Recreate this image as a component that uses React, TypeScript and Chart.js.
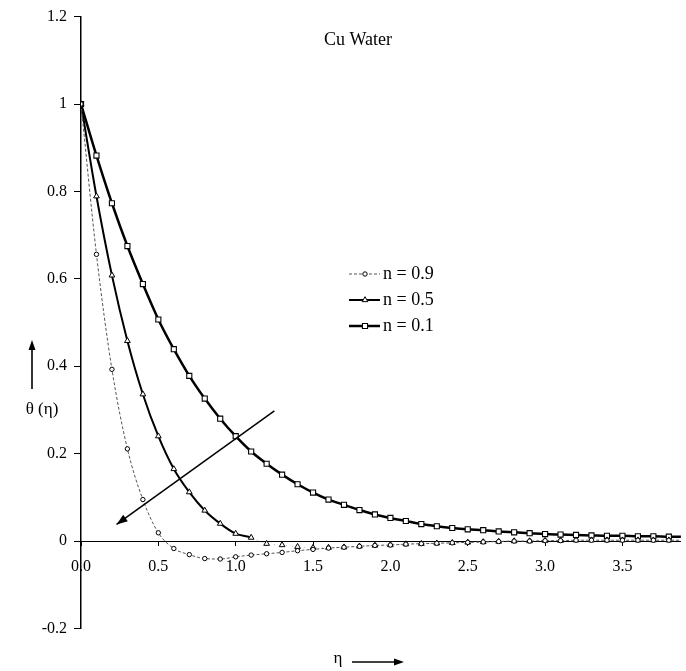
import React, { useEffect, useRef } from 'react';
import { Chart, registerables } from 'chart.js';

Chart.register(...registerables);

// ---- data ----
const etaValues = [
  0, 0.1, 0.2, 0.3, 0.4, 0.5, 0.6, 0.7, 0.8, 0.9,
  1.0, 1.1, 1.2, 1.3, 1.4, 1.5, 1.6, 1.7, 1.8, 1.9,
  2.0, 2.1, 2.2, 2.3, 2.4, 2.5, 2.6, 2.7, 2.8, 2.9,
  3.0, 3.1, 3.2, 3.3, 3.4, 3.5, 3.6, 3.7, 3.8, 3.9, 4.0,
];

const thetaN01 = [
  1.0, 0.882, 0.773, 0.675, 0.588, 0.507, 0.439, 0.378, 0.326, 0.28,
  0.24, 0.205, 0.177, 0.152, 0.13, 0.111, 0.095, 0.083, 0.071, 0.061,
  0.053, 0.046, 0.039, 0.034, 0.03, 0.027, 0.025, 0.022, 0.02, 0.018,
  0.016, 0.015, 0.014, 0.013, 0.012, 0.012, 0.011, 0.011, 0.01, 0.01, 0.01,
];

const thetaN05 = [
  1.0, 0.789, 0.608, 0.458, 0.336, 0.24, 0.165, 0.112, 0.07, 0.04,
  0.017, 0.008, -0.006, -0.009, -0.013, -0.015, -0.015, -0.014, -0.012, -0.01,
  -0.009, -0.007, -0.006, -0.005, -0.004, -0.003, -0.002, -0.001, 0.0, 0.0,
  0.001, 0.001, 0.002, 0.002, 0.002, 0.002, 0.002, 0.002, 0.002, 0.002, 0.002,
];

const thetaN09 = [
  1.0, 0.656, 0.393, 0.211, 0.095, 0.019, -0.017, -0.031, -0.04, -0.041,
  -0.036, -0.032, -0.029, -0.026, -0.022, -0.019, -0.016, -0.014, -0.012, -0.01,
  -0.009, -0.007, -0.006, -0.005, -0.004, -0.003, -0.002, -0.001, 0.0, 0.0,
  0.001, 0.001, 0.002, 0.002, 0.002, 0.002, 0.002, 0.002, 0.002, 0.002, 0.002,
];

const seriesLabels = ['n = 0.9', 'n = 0.5', 'n = 0.1'];
const xTickValues = [0, 0.5, 1.0, 1.5, 2.0, 2.5, 3.0, 3.5];
const yTickValues = [-0.2, 0, 0.2, 0.4, 0.6, 0.8, 1.0, 1.2];
const yTickLabels = ['-0.2', '0', '0.2', '0.4', '0.6', '0.8', '1', '1.2'];
const chartTitle = 'Cu Water';
const xAxisTitle = 'η';
const yAxisTitle = 'θ (η)';
const trendArrowFrom = [1.25, 0.298];
const trendArrowTo = [0.23, 0.038];

const SERIF = '"Liberation Serif", "Times New Roman", serif';
const LEGEND_ROWS = [274, 300, 326];

function toPoints(ys: number[]) {
  return etaValues.map((x, i) => ({ x, y: ys[i] }));
}

function drawArrowHead(ctx: CanvasRenderingContext2D, fx: number, fy: number, tx: number, ty: number, len: number, half: number) {
  const ang = Math.atan2(ty - fy, tx - fx);
  ctx.beginPath();
  ctx.moveTo(tx, ty);
  ctx.lineTo(tx - len * Math.cos(ang) + half * Math.sin(ang), ty - len * Math.sin(ang) - half * Math.cos(ang));
  ctx.lineTo(tx - len * Math.cos(ang) - half * Math.sin(ang), ty - len * Math.sin(ang) + half * Math.cos(ang));
  ctx.closePath();
  ctx.fill();
}

function drawMarker(ctx: CanvasRenderingContext2D, style: string, r: number, x: number, y: number) {
  ctx.beginPath();
  if (style === 'circle') {
    ctx.arc(x, y, r, 0, Math.PI * 2);
  } else if (style === 'rect') {
    const s = r * Math.SQRT1_2;
    ctx.rect(x - s, y - s, 2 * s, 2 * s);
  } else if (style === 'triangle') {
    ctx.moveTo(x, y - r);
    ctx.lineTo(x + r * 0.866, y + r * 0.5);
    ctx.lineTo(x - r * 0.866, y + r * 0.5);
    ctx.closePath();
  }
  ctx.fill();
  ctx.stroke();
}

const overlayPlugin = {
  id: 'overlay',
  afterDraw(chart: any) {
    const { ctx, scales } = chart;
    const xs = scales.x;
    const ys = scales.y;
    ctx.save();
    ctx.fillStyle = '#000';
    ctx.strokeStyle = '#000';

    // trend arrow
    const ax1 = xs.getPixelForValue(trendArrowFrom[0]);
    const ay1 = ys.getPixelForValue(trendArrowFrom[1]);
    const ax2 = xs.getPixelForValue(trendArrowTo[0]);
    const ay2 = ys.getPixelForValue(trendArrowTo[1]);
    ctx.lineWidth = 1.5;
    ctx.beginPath();
    ctx.moveTo(ax1, ay1);
    ctx.lineTo(ax2, ay2);
    ctx.stroke();
    drawArrowHead(ctx, ax1, ay1, ax2, ay2, 11, 4);

    // title
    ctx.font = `18px ${SERIF}`;
    ctx.textAlign = 'center';
    ctx.textBaseline = 'middle';
    ctx.fillText(chartTitle, 358, 40);

    // y-axis title with arrow
    ctx.font = `17px ${SERIF}`;
    ctx.fillText(yAxisTitle, 42, 410);
    ctx.lineWidth = 1.6;
    ctx.beginPath();
    ctx.moveTo(32, 389);
    ctx.lineTo(32, 348);
    ctx.stroke();
    drawArrowHead(ctx, 32, 389, 32, 340, 10, 3.5);

    // x-axis title with arrow
    ctx.fillText(xAxisTitle, 338, 659);
    ctx.beginPath();
    ctx.moveTo(352, 662);
    ctx.lineTo(395, 662);
    ctx.stroke();
    drawArrowHead(ctx, 352, 662, 404, 662, 10, 3.5);

    // legend
    chart.data.datasets.forEach((d: any, i: number) => {
      const yy = LEGEND_ROWS[i];
      ctx.save();
      ctx.strokeStyle = d.borderColor;
      ctx.lineWidth = d.borderWidth;
      ctx.setLineDash(d.borderDash || []);
      ctx.beginPath();
      ctx.moveTo(349, yy);
      ctx.lineTo(380, yy);
      ctx.stroke();
      ctx.restore();
      ctx.save();
      ctx.fillStyle = '#fff';
      ctx.strokeStyle = '#000';
      ctx.lineWidth = d.pointBorderWidth;
      ctx.setLineDash([]);
      drawMarker(ctx, d.pointStyle, d.pointRadius, 365, yy);
      ctx.restore();
      ctx.font = `18px ${SERIF}`;
      ctx.textAlign = 'left';
      ctx.textBaseline = 'middle';
      ctx.fillStyle = '#000';
      ctx.fillText(seriesLabels[i], 383, yy);
    });
    ctx.restore();
  },
};

export default function App() {
  const canvasRef = useRef<HTMLCanvasElement | null>(null);

  useEffect(() => {
    if (!canvasRef.current) return;
    const after11 = (c: any, v: any, dflt: any) => (c.p0.parsed.x >= 1.05 ? v : dflt);
    const chart = new Chart(canvasRef.current, {
      type: 'line',
      data: {
        datasets: [
          {
            label: seriesLabels[0],
            data: toPoints(thetaN09),
            borderColor: '#555',
            borderWidth: 1,
            borderDash: [3, 2],
            pointStyle: 'circle',
            pointRadius: 2.2,
            pointBorderWidth: 1,
            pointBackgroundColor: '#fff',
            pointBorderColor: '#000',
            cubicInterpolationMode: 'monotone',
          },
          {
            label: seriesLabels[1],
            data: toPoints(thetaN05),
            borderColor: '#000',
            borderWidth: 2,
            pointStyle: 'triangle',
            pointRadius: 3.3,
            pointBorderWidth: 1,
            pointBackgroundColor: '#fff',
            pointBorderColor: '#000',
            cubicInterpolationMode: 'monotone',
            segment: {
              borderColor: (c: any) => after11(c, 'rgba(0,0,0,0.35)', undefined),
              borderWidth: (c: any) => after11(c, 0.8, undefined),
              borderDash: (c: any) => after11(c, [1, 5], undefined),
            },
          },
          {
            label: seriesLabels[2],
            data: toPoints(thetaN01),
            borderColor: '#000',
            borderWidth: 2.5,
            pointStyle: 'rect',
            pointRadius: 3.6,
            pointBorderWidth: 1.1,
            pointBackgroundColor: '#fff',
            pointBorderColor: '#000',
            cubicInterpolationMode: 'monotone',
          },
        ] as any,
      },
      options: {
        animation: false,
        responsive: false,
        layout: { padding: { top: 15, bottom: 42.5, left: 0, right: 0 } },
        plugins: {
          legend: { display: false },
          tooltip: { enabled: false },
          title: { display: false },
        },
        scales: {
          x: {
            type: 'linear',
            position: { y: 0 } as any,
            min: 0,
            max: 3.878,
            afterBuildTicks: (s: any) => {
              s.ticks = xTickValues.map((v) => ({ value: v }));
            },
            ticks: {
              callback: (v: any) => Number(v).toFixed(1),
              font: { family: SERIF, size: 16 },
              color: '#000',
              padding: 12,
              maxRotation: 0,
              autoSkip: false,
            },
            grid: { drawOnChartArea: false, drawTicks: true, tickLength: 4, color: '#000' },
            border: { color: '#000', width: 1 },
          },
          y: {
            type: 'linear',
            position: 'left',
            min: -0.2,
            max: 1.2,
            afterBuildTicks: (s: any) => {
              s.ticks = yTickValues.map((v) => ({ value: v }));
            },
            afterFit: (s: any) => {
              s.width = 81;
            },
            ticks: {
              callback: (v: any) => {
                const idx = yTickValues.findIndex((t) => Math.abs(t - Number(v)) < 1e-6);
                return idx >= 0 ? yTickLabels[idx] : '';
              },
              font: { family: SERIF, size: 16 },
              color: '#000',
              padding: 7,
              autoSkip: false,
            },
            grid: { drawOnChartArea: false, drawTicks: true, tickLength: 7, color: '#000' },
            border: { color: '#000', width: 1.5 },
          },
        },
      },
      plugins: [overlayPlugin],
    });
    return () => chart.destroy();
  }, []);

  return (
    <div style={{ position: 'absolute', left: 0, top: 0, width: 686, height: 671, background: '#fff' }}>
      <canvas ref={canvasRef} width={686} height={671} style={{ display: 'block' }} />
    </div>
  );
}
